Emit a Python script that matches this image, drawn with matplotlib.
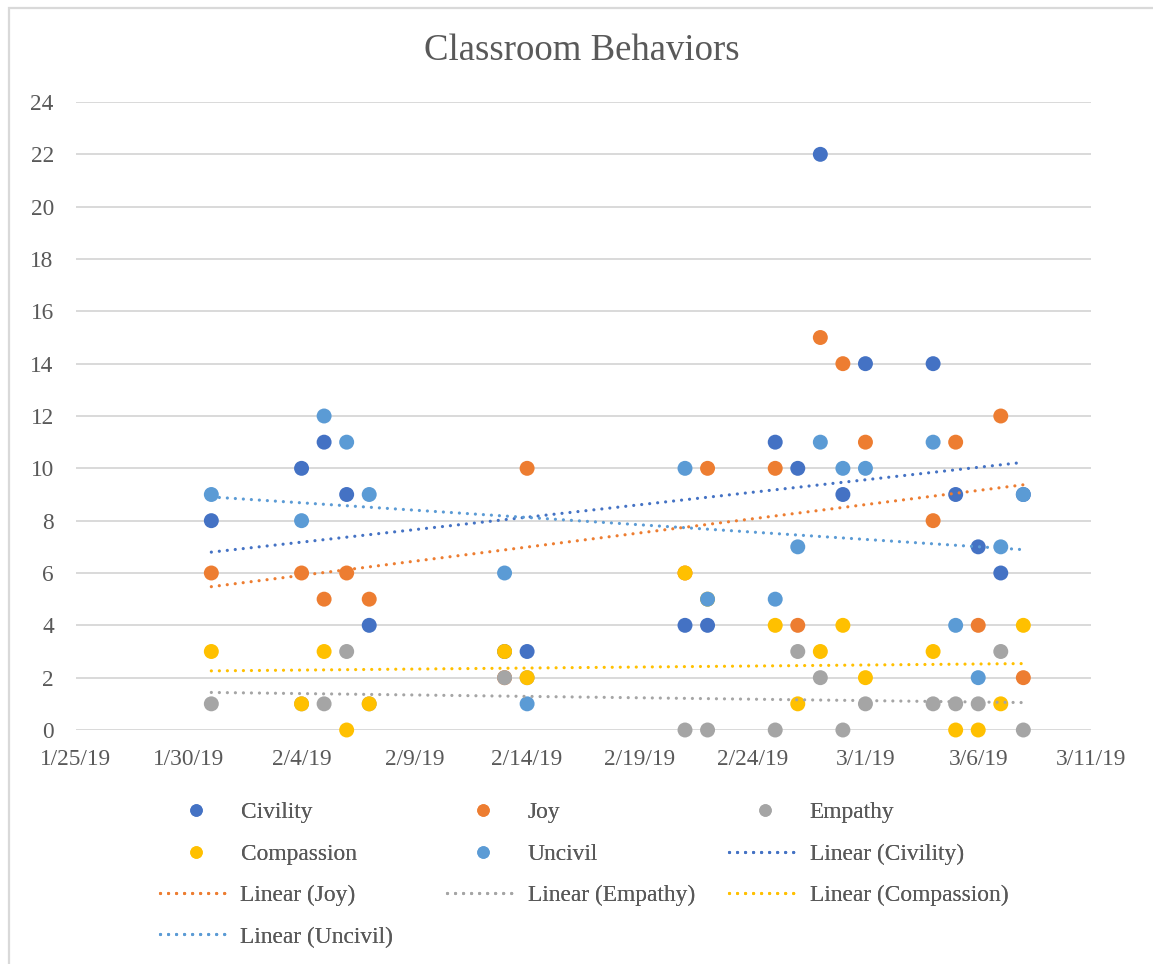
import matplotlib as mpl
mpl.use('Agg')
import matplotlib.pyplot as plt
import matplotlib.dates as mdates
from matplotlib.lines import Line2D
from matplotlib.patches import Rectangle
from matplotlib.ticker import FuncFormatter, MultipleLocator
import numpy as np
import datetime as dt

# data (some points sit hidden under later series)
dates = ['2019-01-31', '2019-02-04', '2019-02-05', '2019-02-06', '2019-02-07',
         '2019-02-13', '2019-02-14', '2019-02-21', '2019-02-22', '2019-02-25',
         '2019-02-26', '2019-02-27', '2019-02-28', '2019-03-01', '2019-03-04',
         '2019-03-05', '2019-03-06', '2019-03-07', '2019-03-08']
civility   = [8, 10, 11, 9, 4, 3, 3, 4, 4, 11, 10, 22, 9, 14, 14, 9, 7, 6, 9]
joy        = [6, 6, 5, 6, 5, 2, 10, 6, 10, 10, 4, 15, 14, 11, 8, 11, 4, 12, 2]
empathy    = [1, 1, 1, 3, 1, 2, 2, 0, 0, 0, 3, 2, 0, 1, 1, 1, 1, 3, 0]
compassion = [3, 1, 3, 0, 1, 3, 2, 6, 5, 4, 1, 3, 4, 2, 3, 0, 0, 1, 4]
uncivil    = [9, 8, 12, 11, 9, 6, 1, 10, 5, 5, 7, 11, 10, 10, 11, 4, 2, 7, 9]

series = [('Civility', civility, '#4472C4'),
          ('Joy', joy, '#ED7D31'),
          ('Empathy', empathy, '#A5A5A5'),
          ('Compassion', compassion, '#FFC000'),
          ('Uncivil', uncivil, '#5B9BD5')]

W, H = 1153, 964
txt = '#595959'
grid = '#D9D9D9'
plt.rcParams['font.family'] = ['Liberation Serif', 'DejaVu Serif']

fig = plt.figure(figsize=(W / 100, H / 100), dpi=100)
ax = fig.add_axes([76 / W, 1 - 730 / H, (1091 - 76) / W, (730 - 102) / H])

x = [dt.datetime.strptime(d, '%Y-%m-%d') for d in dates]
xn = mdates.date2num(x)

for name, vals, col in series:
    ax.scatter(x, vals, s=116, color=col, edgecolors='none', zorder=3, clip_on=False)

# linear trendlines, drawn over the markers like Excel does
trend_handles = []
for name, vals, col in series:
    m, b = np.polyfit(xn, vals, 1)
    xs = np.array([xn[0], xn[-1]])
    ln, = ax.plot(mdates.num2date(xs), m * xs + b, color=col, lw=2.3,
                  linestyle=(0, (0.01, 2.5)), dash_capstyle='round', zorder=4)
    trend_handles.append(ln)

ax.set_xlim(dt.datetime(2019, 1, 25), dt.datetime(2019, 3, 11))
ax.set_ylim(0, 24)
ax.set_xticks([dt.datetime(2019, 1, 25) + dt.timedelta(days=5 * i) for i in range(10)])
ax.xaxis.set_major_formatter(FuncFormatter(
    lambda v, p: '%d/%d/%s' % (mdates.num2date(v).month, mdates.num2date(v).day,
                               mdates.num2date(v).strftime('%y'))))
ax.yaxis.set_major_locator(MultipleLocator(2))
ax.tick_params(axis='both', length=0, labelsize=16.8, colors=txt)
ax.tick_params(axis='x', pad=14)
ax.tick_params(axis='y', pad=16)
for s in ax.spines.values():
    s.set_visible(False)
ax.grid(True, axis='y', color=grid, lw=1.4, zorder=0)
ax.set_axisbelow(True)

fig.text(582 / W, 1 - 51 / H, 'Classroom Behaviors', fontsize=26.5, color=txt,
         ha='center', va='center')

# chart border (only left/top visible in the crop)
fig.add_artist(Rectangle((8.5 / W, -0.1), 1.2, 1 - 7.5 / H + 0.1, transform=fig.transFigure,
                         fill=False, edgecolor=grid, lw=1.6))

def mk(col):
    return Line2D([], [], marker='o', linestyle='none', markersize=9,
                  markerfacecolor=col, markeredgecolor='none')

h = {name: mk(col) for name, vals, col in series}
lt = {name: trend_handles[i] for i, (name, vals, col) in enumerate(series)}
cols = [
    (160, [(h['Civility'], 'Civility'), (h['Compassion'], 'Compassion'),
           (lt['Joy'], 'Linear (Joy)'), (lt['Uncivil'], 'Linear (Uncivil)')]),
    (447, [(h['Joy'], 'Joy'), (h['Uncivil'], 'Uncivil'),
           (lt['Empathy'], 'Linear (Empathy)')]),
    (729, [(h['Empathy'], 'Empathy'), (lt['Civility'], 'Linear (Civility)'),
           (lt['Compassion'], 'Linear (Compassion)')]),
]
for xpx, items in cols:
    lg = fig.legend([i[0] for i in items], [i[1] for i in items],
                    loc='upper left', bbox_to_anchor=(xpx / W, 1 - 802 / H),
                    frameon=False, borderpad=0, borderaxespad=0,
                    fontsize=16.8, labelcolor=txt, handlelength=3.1,
                    handletextpad=0.35, labelspacing=0.86, numpoints=1)
    fig.add_artist(lg)

fig.savefig('out.png', dpi=100)
